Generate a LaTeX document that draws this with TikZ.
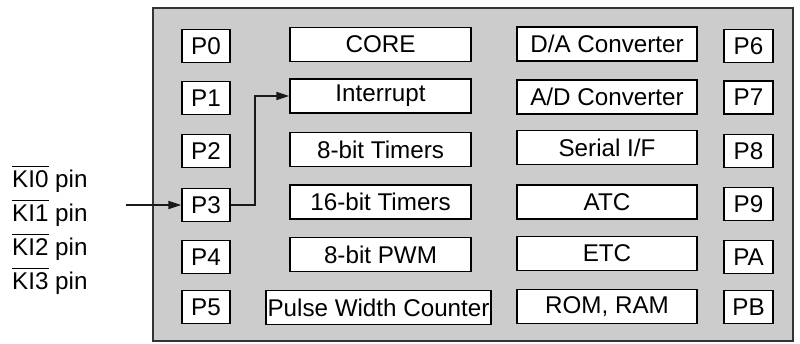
\documentclass[tikz,border=0pt]{standalone}
\usepackage{fontspec}
\setmainfont{Liberation Sans}
\usetikzlibrary{arrows.meta}
\definecolor{panel}{HTML}{CCCCCC}
\definecolor{edge}{HTML}{333333}
\newcommand\ovl[1]{\leavevmode\vbox{\hrule height 1.3pt\kern 3.2pt\hbox{#1}}}
\begin{document}
\begin{tikzpicture}[x=1pt,y=-1pt,
  every node/.style={font=\fontsize{24.2}{28}\selectfont},
  pbox/.style={draw=black, fill=white, line width=1.3pt, minimum width=48pt, minimum height=33pt, inner sep=0pt},
  fbox/.style={draw=black, fill=white, line width=1.3pt, minimum width=181pt, minimum height=34pt, inner sep=0pt},
  lbl/.style={anchor=base west, inner sep=0pt},
  conn/.style={draw=black!90, line width=1.8pt},
  arr/.style={conn, -{Triangle[length=13pt,width=8pt]}}]
\useasboundingbox (0,0) rectangle (800,343);
\draw[fill=panel, draw=edge, line width=2pt] (153,8) rectangle (793,341);
% left ports
\node[pbox] (P0) at (206,46) {P0};
\node[pbox] (P1) at (206,98) {P1};
\node[pbox] (P2) at (206,151) {P2};
\node[pbox] (P3) at (206,205) {P3};
\node[pbox] (P4) at (206,257) {P4};
\node[pbox] (P5) at (206,307) {P5};
% right ports
\node[pbox, minimum width=49pt] (P6) at (748.5,46) {P6};
\node[pbox, minimum width=49pt] (P7) at (748.5,97.5) {P7};
\node[pbox, minimum width=49pt] (P8) at (748.5,151) {P8};
\node[pbox, minimum width=49pt] (P9) at (748.5,204) {P9};
\node[pbox, minimum width=49pt] (PA) at (748.5,257) {PA};
\node[pbox, minimum width=49pt] (PB) at (748.5,307) {PB};
% left function column
\node[fbox] (CORE) at (380.5,44.5) {CORE};
\node[fbox] (INT) at (380.5,96) {Interrupt};
\node[fbox] (T8) at (380.5,149.5) {8-bit Timers};
\node[fbox] (T16) at (380.5,202) {16-bit Timers};
\node[fbox] (PWM) at (380.5,254.5) {8-bit PWM};
\node[fbox, minimum width=225pt] (PWC) at (378.5,307.5) {Pulse Width Counter};
% right function column
\node[fbox, minimum width=180pt] (DA) at (607,44) {D/A Converter};
\node[fbox, minimum width=180pt] (AD) at (607,97) {A/D Converter};
\node[fbox, minimum width=180pt] (SIF) at (607,147.5) {Serial I/F};
\node[fbox, minimum width=180pt] (ATC) at (607,202) {ATC};
\node[fbox, minimum width=180pt] (ETC) at (607,253.5) {ETC};
\node[fbox, minimum width=180pt] (ROM) at (607,306.5) {ROM, RAM};
% key input labels
\node[lbl] (KI0) at (12,187) {\ovl{KI0} pin};
\node[lbl] (KI1) at (12,221) {\ovl{KI1} pin};
\node[lbl] (KI2) at (12,255) {\ovl{KI2} pin};
\node[lbl] (KI3) at (12,289) {\ovl{KI3} pin};
% connectors
\coordinate (kin) at (126,205);
\draw[arr] (kin) -- (P3.west);
\draw[arr] (P3.east) -- ++(24,0) |- (INT.west);
\end{tikzpicture}
\end{document}
